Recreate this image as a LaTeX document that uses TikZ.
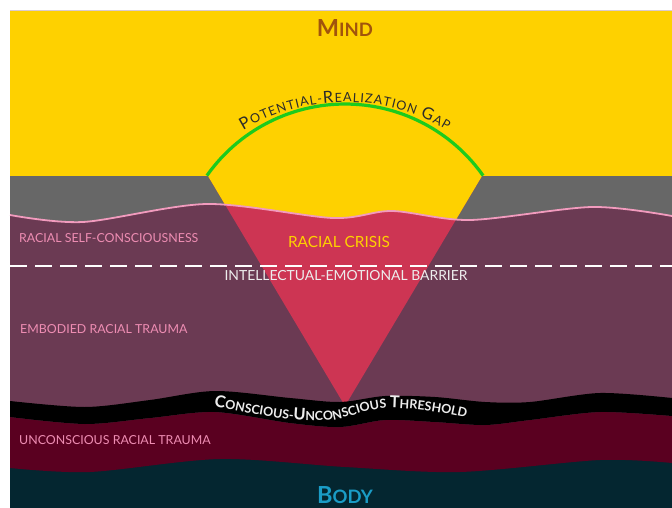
\documentclass[tikz,border=0pt]{standalone}
\usepackage{fontspec}
\setmainfont{Lato}
\usetikzlibrary{decorations.text}
\definecolor{yellow0}{HTML}{FED100}
\definecolor{gray0}{HTML}{676767}
\definecolor{purple0}{HTML}{6B3A53}
\definecolor{red0}{HTML}{CD3553}
\definecolor{maroon0}{HTML}{5A0020}
\definecolor{teal0}{HTML}{042630}
\definecolor{pinkline}{HTML}{F29BBE}
\definecolor{pinktext}{HTML}{EE8DB3}
\definecolor{green0}{HTML}{1DCB1D}
\definecolor{mindc}{HTML}{A1540C}
\definecolor{bodyc}{HTML}{1A9CC6}
\definecolor{arctext}{HTML}{2B2B2B}
\definecolor{whitetxt}{HTML}{EDEDED}
\newcommand\scA{\fontsize{16.5}{17}\selectfont}
\newcommand\scB{\fontsize{12.6}{13}\selectfont}
\newcommand\scC{\bfseries\fontsize{16.4}{17}\selectfont}
\newcommand\scD{\bfseries\fontsize{12.5}{13}\selectfont}
\begin{document}
\begin{tikzpicture}[x=1pt,y=-1pt,
  lbl/.style={inner sep=0pt, font=\fontsize{12.4}{13}\selectfont, text=pinktext, anchor=west},
  mid/.style={inner sep=0pt, anchor=center}]
\useasboundingbox (0,0) rectangle (672,508);
\fill[white] (0,0) rectangle (672,508);
\fill[teal0] (10,11) rectangle (672,508);
% maroon layer
\fill[maroon0] (10,11) -- plot[smooth] coordinates {(10,468) (90,472) (220,459) (345,467) (460,472) (600,460) (672,463)} -- (672,11) -- cycle;
% purple layer
\fill[purple0] (10,11) -- plot[smooth] coordinates {(10,417) (85,424) (150,418) (215,412) (290,423) (340,427) (385,420) (435,422) (485,425) (530,420) (600,412) (672,416)} -- (672,11) -- cycle;
% gray layer
\fill[gray0] (10,176) -- plot[smooth] coordinates {(10,215) (83,222) (207,204) (333,218) (392,211) (470,220) (592,207) (672,216)} -- (672,176) -- cycle;
% yellow
\fill[yellow0] (10,11) rectangle (672,176);
% funnel
\fill[red0] (208,176) -- (482,176) -- (345,406) -- cycle;
\begin{scope}
\clip (208,176) -- (482,176) -- (345,406) -- cycle;
\fill[yellow0] (10,170) -- plot[smooth] coordinates {(10,215) (83,222) (207,204) (333,218) (392,211) (470,220) (592,207) (672,216)} -- (672,170) -- cycle;
\end{scope}
% threshold band
\fill[black] plot[smooth] coordinates {(10,401) (85,407) (150,400) (215,391) (290,398) (340,402) (385,396) (435,397) (485,402) (530,402) (600,393) (672,398)}
  -- plot[smooth] coordinates {(672,416) (600,412) (530,420) (485,425) (435,422) (385,420) (340,427) (290,423) (215,412) (150,418) (85,424) (10,417)} -- cycle;
% pink line
\draw[pinkline, line width=1.8pt] plot[smooth] coordinates {(10,215) (83,222) (207,204) (333,218) (392,211) (470,220) (592,207) (672,216)};
% barrier
\draw[white, line width=2.5pt, dash pattern=on 17pt off 8pt] (10,266) -- (672,266);
% gap arc
\draw[green0, line width=3.2pt] (206.9,175.6) arc[start angle=215.2, end angle=324.8, radius=169];
\path[decorate, decoration={text along path, text align=fit to path, text color=arctext,
  text={|\scA|P|\scB|OTENTIAL-|\scA|R|\scB|EALIZATION |\scA|G|\scB|AP}}]
  (243.1,130.3) arc[start angle=239, end angle=301, radius=198];
\path[decorate, decoration={text along path, text align=center, text color=whitetxt,
  text={|\scC|C|\scD|ONSCIOUS-|\scC|U|\scD|NCONSCIOUS |\scC|T|\scD|HRESHOLD}}]
  (205,405) .. controls (255,414) and (300,425) .. (338,419) .. controls (360,414) and (372,407) .. (395,408) .. controls (425,409) and (450,414) .. (475,420);
% labels
\node[mid, text=mindc, font=\bfseries] (mind) at (345,28) {{\fontsize{23.5}{24}\selectfont M}{\fontsize{18.5}{19}\selectfont IND}};
\node[mid, text=bodyc, font=\bfseries] (body) at (345,495) {{\fontsize{23.5}{24}\selectfont B}{\fontsize{18.5}{19}\selectfont ODY}};
\node[lbl] (rsc) at (19,238) {RACIAL SELF-CONSCIOUSNESS};
\node[mid, text=yellow0, font=\fontsize{15.4}{16}\selectfont] (crisis) at (339,242) {RACIAL CRISIS};
\node[mid, text=whitetxt, font=\fontsize{13.9}{15}\selectfont] (barrier) at (346,276) {INTELLECTUAL-EMOTIONAL BARRIER};
\node[lbl] (ert) at (20,329) {EMBODIED RACIAL TRAUMA};
\node[lbl] (urt) at (19,440) {UNCONSCIOUS RACIAL TRAUMA};
\end{tikzpicture}
\end{document}
